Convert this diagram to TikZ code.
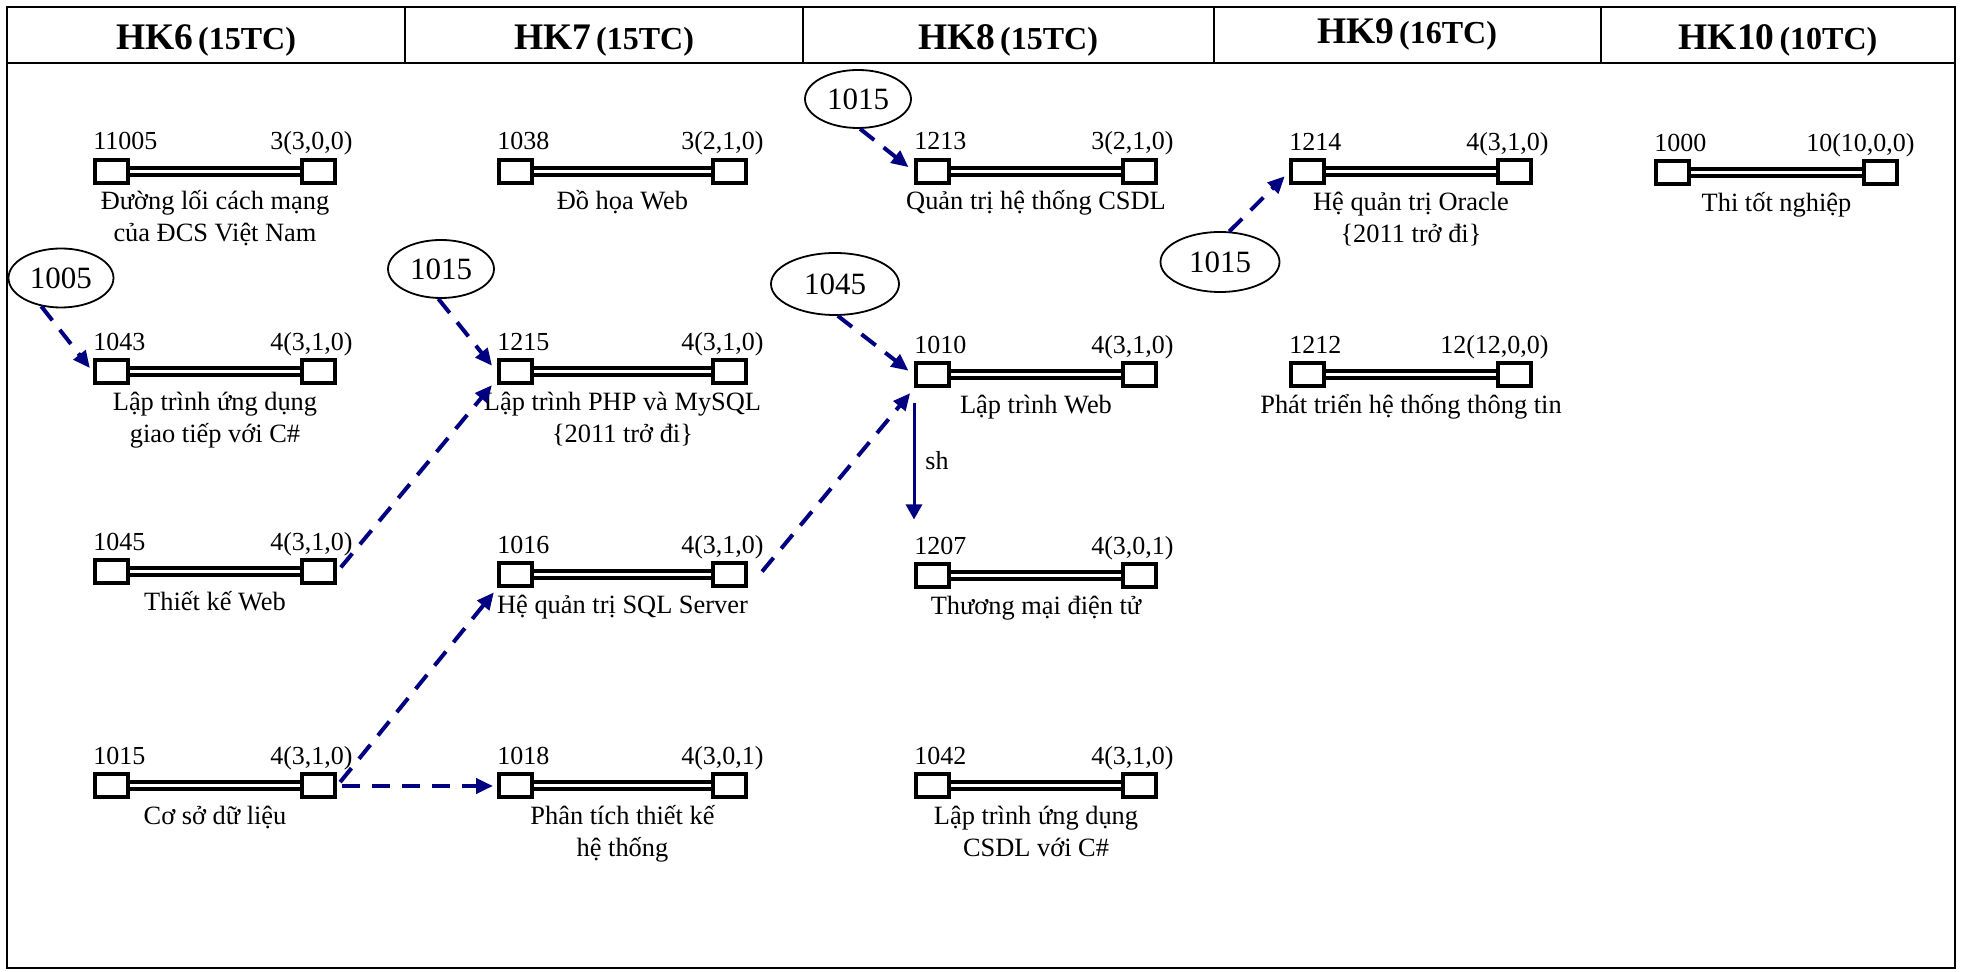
\documentclass[tikz,border=0pt]{standalone}
\usepackage{fontspec}
\setmainfont{Liberation Serif}
\usetikzlibrary{arrows.meta,calc,shapes.geometric}
\definecolor{navyc}{RGB}{0,0,128}
\tikzset{
  sq/.style={draw, line width=2pt, minimum width=16.5pt, minimum height=11.5pt, inner sep=0pt, fill=white},
  dbl/.style={draw, line width=2pt, double, double distance=1.5pt},
  numl/.style={anchor=base west, inner sep=0pt, font=\fontsize{13}{16}\selectfont},
  credl/.style={anchor=base east, inner sep=0pt, font=\fontsize{13}{16}\selectfont},
  titl/.style={anchor=base, inner sep=0pt, font=\fontsize{13.2}{16}\selectfont},
  ell/.style={draw, ellipse, line width=0.9pt, inner sep=0pt, font=\fontsize{15.5}{18}\selectfont},
  dep/.style={navyc, line width=2pt, dash pattern=on 9pt off 6pt, -{Triangle[length=8.5pt,width=7.5pt]}},
  solidarr/.style={navyc, line width=1.5pt, -{Triangle[length=7.5pt,width=8pt]}},
  hdr/.style={anchor=base, inner sep=0pt},
  frame/.style={line width=1.2pt},
}
\newcommand{\crs}[7]{%
  \node[sq] (#1L) at ({#2+18.5},#4) {};
  \node[sq] (#1R) at ({#3-18.5},#4) {};
  \draw[dbl] (#1L.east) -- (#1R.west);
  \node[numl] (#1n) at (#2,{#4-21.5}) {#5};
  \node[credl] (#1c) at ({#3+16},{#4-21.5}) {#6};
  \node[titl] (#1t) at ({(#2+#3)/2},{#4+38.5}) {\begin{tabular}[t]{@{}c@{}}#7\end{tabular}};
}
\newcommand{\hk}[2]{{\fontsize{18.75}{20}\selectfont\bfseries #1} {\fontsize{16}{18}\selectfont\bfseries #2}}
\begin{document}
\begin{tikzpicture}[x=0.5pt,y=-0.5pt]
\useasboundingbox (0,0) rectangle (1961,972);
% frame and header
\draw[frame] (7,7) rectangle (1955,968);
\draw[frame] (7,63) -- (1955,63);
\foreach \xx in {405,803,1214,1601} \draw[frame] (\xx,7) -- (\xx,63);
\node[hdr] (h6) at (206,50) {\hk{HK6}{(15TC)}};
\node[hdr] (h7) at (604,50) {\hk{HK7}{(15TC)}};
\node[hdr] (h8) at (1008,50) {\hk{HK8}{(15TC)}};
\node[hdr] (h9) at (1407,44) {\hk{HK9}{(16TC)}};
\node[hdr] (h10) at (1778,50) {\hk{HK10}{(10TC)}};
% courses
\crs{n11005}{93}{337}{171.5}{11005}{3(3,0,0)}{Đường lối cách mạng\\của ĐCS Việt Nam}
\crs{n1038}{497}{748}{171.5}{1038}{3(2,1,0)}{Đồ họa Web}
\crs{n1213}{914}{1158}{171.5}{1213}{3(2,1,0)}{Quản trị hệ thống CSDL}
\crs{n1214}{1289}{1533}{172}{1214}{4(3,1,0)}{Hệ quản trị Oracle\\\{2011 trở đi\}}
\crs{n1000}{1654}{1899}{173}{1000}{10(10,0,0)}{Thi tốt nghiệp}
\crs{n1043}{93}{337}{372}{1043}{4(3,1,0)}{Lập trình ứng dụng\\giao tiếp với C\#}
\crs{n1215}{497}{748}{372}{1215}{4(3,1,0)}{Lập trình PHP và MySQL\\\{2011 trở đi\}}
\crs{n1010}{914}{1158}{375}{1010}{4(3,1,0)}{Lập trình Web}
\crs{n1212}{1289}{1533}{375}{1212}{12(12,0,0)}{Phát triển hệ thống thông tin}
\crs{n1045}{93}{337}{572}{1045}{4(3,1,0)}{Thiết kế Web}
\crs{n1016}{497}{748}{575}{1016}{4(3,1,0)}{Hệ quản trị SQL Server}
\crs{n1207}{914}{1158}{576}{1207}{4(3,0,1)}{Thương mại điện tử}
\crs{n1015}{93}{337}{786}{1015}{4(3,1,0)}{Cơ sở dữ liệu}
\crs{n1018}{497}{748}{786}{1018}{4(3,0,1)}{Phân tích thiết kế\\hệ thống}
\crs{n1042}{914}{1158}{786}{1042}{4(3,1,0)}{Lập trình ứng dụng\\CSDL với C\#}
% prerequisite ellipses
\node[ell, minimum width=52.5pt, minimum height=29.5pt] (e1) at (61,278) {1005};
\node[ell, minimum width=53pt, minimum height=29pt] (e2) at (441,269) {1015};
\node[ell, minimum width=53pt, minimum height=29pt] (e3) at (858,99) {1015};
\node[ell, minimum width=64pt, minimum height=31pt] (e4) at (835,284) {1045};
\node[ell, minimum width=59.5pt, minimum height=30pt] (e5) at (1220,262) {1015};
% connectors
\draw[dep, shorten >=2.5pt] (e1.235) -- (n1043L.west);
\draw[dep, shorten >=4pt] (e2.265) -- (n1215L.west);
\draw[dep, shorten <=3pt, shorten >=4pt] (n1045R.east) -- ([yshift=-3.5pt]n1215L.west);
\draw[dep, shorten >=3.5pt] (e3.274) -- (n1213L.west);
\draw[dep, shorten >=3.5pt] (e4.275) -- (n1010L.west);
\draw[dep, shorten <=11pt, shorten >=3pt] (n1016R.south east) -- (n1010L.south west);
\draw[dep, shorten <=2.5pt, shorten >=2.5pt] (n1015R.east) -- (n1016L.south west);
\draw[dep, shorten <=2.5pt, shorten >=2pt] (n1015R.east) -- (n1018L.west);
\draw[dep, shorten >=3pt] (e5.73) -- (n1214L.west);
\draw[solidarr, shorten <=7.25pt, shorten >=21.5pt] (n1010L.south west) -- (n1207L.north west);
\node[anchor=base west, inner sep=0pt, font=\fontsize{13}{16}\selectfont] (shl) at ($(n1010L.south west)+(11,81)$) {sh};
\end{tikzpicture}
\end{document}
